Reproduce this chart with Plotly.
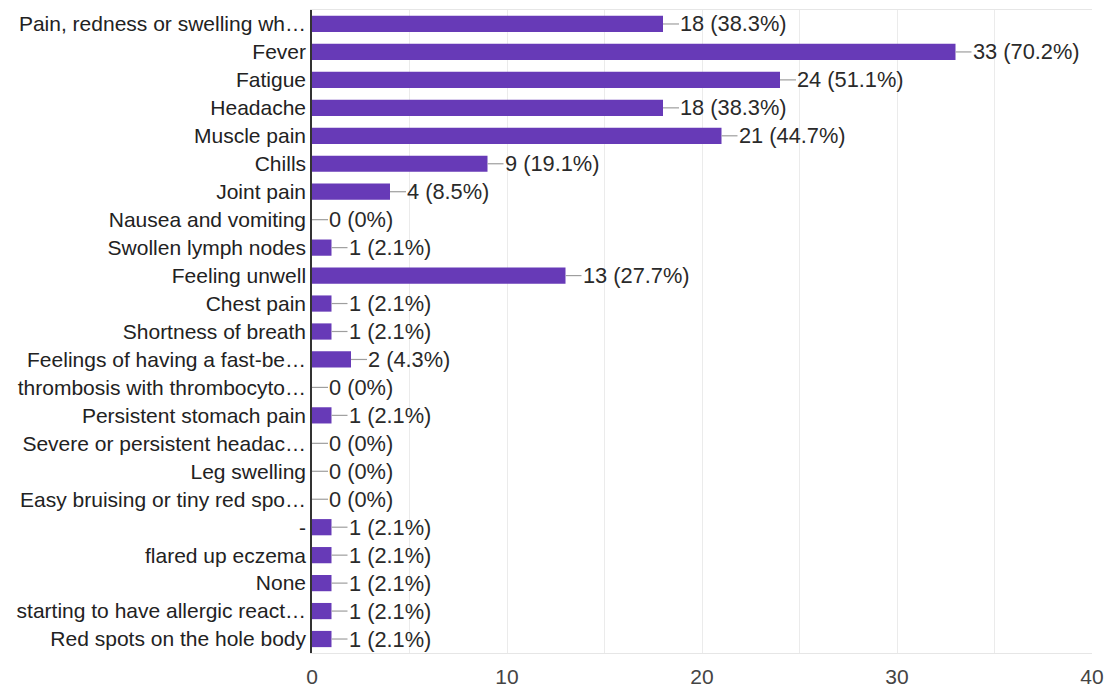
import plotly.graph_objects as go

categories = [
    "Pain, redness or swelling wh…", "Fever", "Fatigue", "Headache", "Muscle pain",
    "Chills", "Joint pain", "Nausea and vomiting", "Swollen lymph nodes",
    "Feeling unwell", "Chest pain", "Shortness of breath",
    "Feelings of having a fast-be…", "thrombosis with thrombocyto…",
    "Persistent stomach pain", "Severe or persistent headac…", "Leg swelling",
    "Easy bruising or tiny red spo…", "-", "flared up eczema", "None",
    "starting to have allergic react…", "Red spots on the hole body",
]
counts = [18, 33, 24, 18, 21, 9, 4, 0, 1, 13, 1, 1, 2, 0, 1, 0, 0, 0, 1, 1, 1, 1, 1]
percents = ["38.3%", "70.2%", "51.1%", "38.3%", "44.7%", "19.1%", "8.5%", "0%", "2.1%",
            "27.7%", "2.1%", "2.1%", "4.3%", "0%", "2.1%", "0%", "0%", "0%", "2.1%",
            "2.1%", "2.1%", "2.1%", "2.1%"]
x_ticks = [0, 10, 20, 30, 40]

FONT = "Liberation Sans, Arial, sans-serif"

fig = go.Figure()
fig.add_trace(go.Bar(
    x=counts, y=list(range(len(categories))), orientation="h",
    marker=dict(color="#673ab7", line=dict(width=0)), width=0.58,
    hoverinfo="skip",
))

for i, (c, p) in enumerate(zip(counts, percents)):
    fig.add_shape(type="line", xref="x", yref="y", xsizemode="pixel", xanchor=c,
                  x0=0, x1=16, y0=i, y1=i, line=dict(color="#9e9e9e", width=1.2), layer="above")
    fig.add_annotation(x=c, y=i, xref="x", yref="y", text=f"{c} ({p})", showarrow=False,
                       xanchor="left", yanchor="middle", xshift=15,
                       font=dict(family=FONT, size=21.8, color="#2a2a2a"))

fig.update_layout(
    width=1109, height=688,
    margin=dict(l=312, r=17, t=10, b=35, autoexpand=False),
    paper_bgcolor="white", plot_bgcolor="white",
    showlegend=False, bargap=0.4,
    font=dict(family=FONT, size=21, color="#222222"),
)
fig.update_xaxes(
    range=[0, 40], tickvals=x_ticks, ticktext=[str(v) for v in x_ticks],
    showgrid=True, gridcolor="#ebebeb", gridwidth=1,
    minor=dict(dtick=5, showgrid=True, gridcolor="#ebebeb", gridwidth=1),
    zeroline=False, showline=True, linecolor="#e6e6e6", linewidth=1, mirror=True,
    ticks="", ticklabelstandoff=5, automargin=False,
    tickfont=dict(family=FONT, size=21, color="#444444"),
)
fig.update_yaxes(
    tickvals=list(range(len(categories))), ticktext=categories,
    range=[len(categories) - 0.5, -0.5],
    showgrid=False, zeroline=False, showline=True, linecolor="#333333", linewidth=1.5,
    ticks="", ticklabelstandoff=0, automargin=False,
    tickfont=dict(family=FONT, size=21, color="#222222"),
)

fig.write_html("out.html")
